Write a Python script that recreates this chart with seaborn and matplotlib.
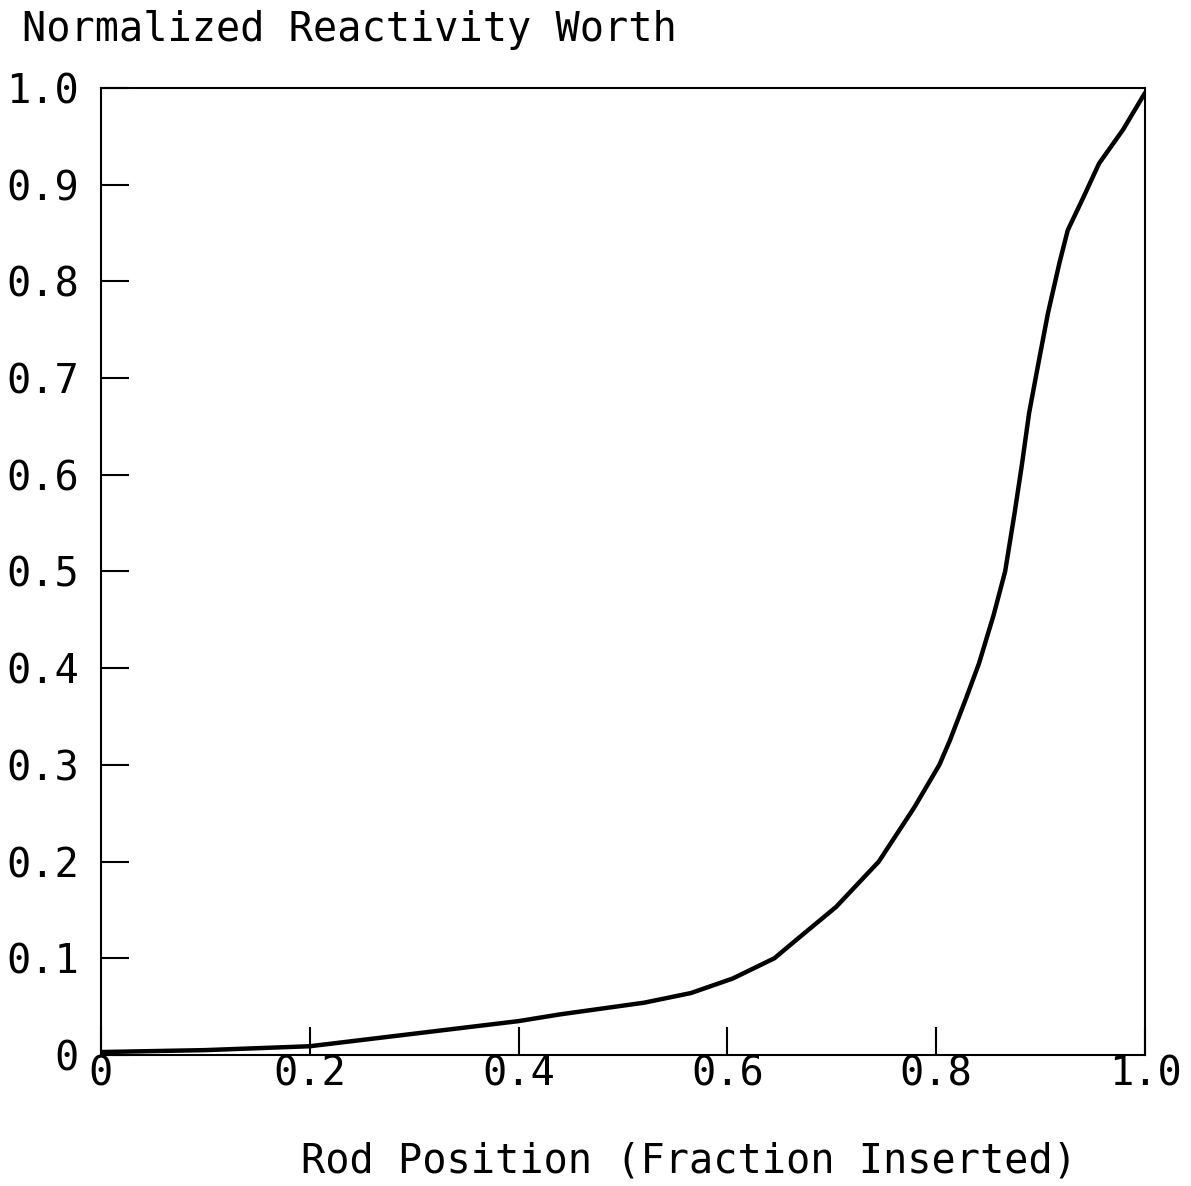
import matplotlib
matplotlib.use("Agg")
import matplotlib.pyplot as plt
import numpy as np
import pandas as pd
import seaborn as sns

# rod worth curve
rod_position = [0.0, 0.1, 0.2, 0.3, 0.4, 0.44, 0.52, 0.565, 0.605, 0.645,
                0.666, 0.704, 0.745, 0.779, 0.803, 0.813, 0.829, 0.841,
                0.855, 0.866, 0.875, 0.882, 0.889, 0.898, 0.907, 0.918,
                0.926, 0.941, 0.956, 0.979, 1.0]
reactivity = [0.003, 0.005, 0.009, 0.022, 0.035, 0.042, 0.054, 0.064, 0.079,
              0.1, 0.119, 0.153, 0.2, 0.256, 0.3, 0.325, 0.37, 0.405, 0.455,
              0.5, 0.56, 0.61, 0.664, 0.716, 0.767, 0.819, 0.853, 0.887,
              0.922, 0.957, 0.995]

x_ticks = [0, 0.2, 0.4, 0.6, 0.8, 1.0]
x_labels = ["0", "0.2", "0.4", "0.6", "0.8", "1.0"]
y_ticks = [0, 0.1, 0.2, 0.3, 0.4, 0.5, 0.6, 0.7, 0.8, 0.9, 1.0]
y_labels = ["0", "0.1", "0.2", "0.3", "0.4", "0.5", "0.6", "0.7", "0.8", "0.9", "1.0"]

sns.set_style("white")
plt.rcParams['font.family'] = ['DejaVu Sans Mono', 'DejaVu Sans']

df = pd.DataFrame({"pos": rod_position, "worth": reactivity})

fig = plt.figure(figsize=(11.91, 11.86), dpi=100)
ax = fig.add_axes([0.0848, 0.1105, 0.8766, 0.8153])

sns.lineplot(data=df, x="pos", y="worth", color="black", linewidth=3.2, ax=ax)

ax.set_xlim(0, 1)
ax.set_ylim(0, 1)
ax.set_xticks(x_ticks)
ax.set_xticklabels(x_labels)
ax.set_yticks(y_ticks)
ax.set_yticklabels(y_labels)

for s in ax.spines.values():
    s.set_color("black")
    s.set_linewidth(1.5)

ax.tick_params(axis="both", direction="in", length=20, width=1.5,
               color="black", labelsize=29, labelcolor="black",
               bottom=True, left=True)
ax.tick_params(axis="y", pad=16)
ax.tick_params(axis="x", pad=0)

ax.set_xlabel("Rod Position (Fraction Inserted)", fontsize=29, color="black")
ax.xaxis.set_label_coords(0.563, -0.09)
ax.set_ylabel("")

fig.text(22 / 1191, 1 - 30 / 1186, "Normalized Reactivity Worth",
         fontsize=29, color="black", ha="left", va="center")

fig.savefig("out.png", dpi=100, facecolor="white")
